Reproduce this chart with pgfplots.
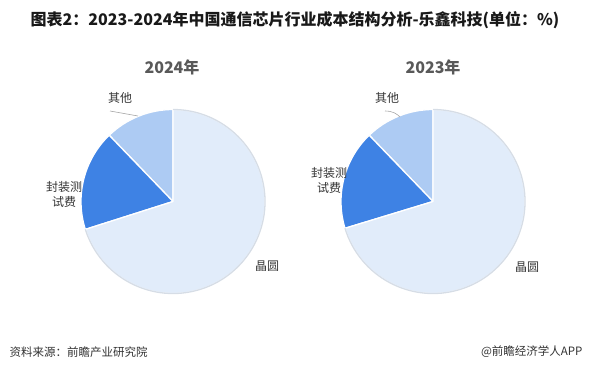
\documentclass[border=0pt]{standalone}
\usepackage{pgfplots}
\pgfplotsset{compat=1.18}
\usepackage{fontspec}
\setmainfont{Noto Sans CJK SC}
\definecolor{wafer}{HTML}{E1ECFA}
\definecolor{pack}{HTML}{3E82E4}
\definecolor{other}{HTML}{ADCBF3}
\definecolor{ring}{HTML}{D6DDE6}
\definecolor{txt}{HTML}{333333}
\definecolor{yr}{HTML}{595959}
% data (%): 其他, 封装测试费, 晶圆
\def\oA{12.2}\def\pA{17.7}\def\wA{70.1} % 2024
\def\oB{12.2}\def\pB{17.5}\def\wB{70.3} % 2023
\def\R{92pt}
\newcommand\slice[5]{%
  \fill[#5,draw=white,line width=1.3pt,line join=round] (axis cs:#1,#2) -- ++({90+3.6*(#3)}:\R)
    arc[start angle={90+3.6*(#3)}, end angle={90+3.6*(#4)}, radius=\R] -- cycle;}
\newcommand\rim[4]{%
  \draw[ring,line width=1.3pt] (axis cs:#1,#2) ++({90+3.6*(#3)}:\R)
    arc[start angle={90+3.6*(#3)}, end angle={90+3.6*(#4)}, radius=\R];}
\begin{document}
\begin{tikzpicture}
\begin{axis}[width=591pt,height=373pt,scale only axis,xmin=0,xmax=591,ymin=0,ymax=373,hide axis,clip=false]
% 2024
\slice{173}{171.5}{0}{\oA}{other}
\slice{173}{171.5}{\oA}{\oA+\pA}{pack}
\slice{173}{171.5}{\oA+\pA}{\oA+\pA+\wA}{wafer}
\rim{173}{171.5}{\oA+\pA}{\oA+\pA+\wA}
% 2023
\slice{433}{171.5}{0}{\oB}{other}
\slice{433}{171.5}{\oB}{\oB+\pB}{pack}
\slice{433}{171.5}{\oB+\pB}{\oB+\pB+\wB}{wafer}
\rim{433}{171.5}{\oB+\pB}{\oB+\pB+\wB}
% leader lines
\draw[gray!70,line width=0.6pt] (axis cs:110,262) -- (axis cs:138,257);
\draw[gray!70,line width=0.6pt] (axis cs:385,262) .. controls (axis cs:393,262) and (axis cs:397,259) .. (axis cs:400,256);
% labels
\node[txt,font=\fontsize{12}{15}\selectfont] at (axis cs:120,275) {其他};
\node[txt,font=\fontsize{12}{15}\selectfont,align=center] at (axis cs:64,178.5) {封装测\\试费};
\node[txt,font=\fontsize{12}{15}\selectfont] at (axis cs:267,107) {晶圆};
\node[txt,font=\fontsize{12}{15}\selectfont] at (axis cs:387,275) {其他};
\node[txt,font=\fontsize{12}{15}\selectfont,align=center] at (axis cs:329,192.5) {封装测\\试费};
\node[txt,font=\fontsize{12}{15}\selectfont] at (axis cs:527,106) {晶圆};
% year titles
\node[yr,font=\fontsize{16}{18}\selectfont\bfseries] at (axis cs:172,306) {2024年};
\node[yr,font=\fontsize{16}{18}\selectfont\bfseries] at (axis cs:433,306) {2023年};
% title
\node[black!90,font=\fontsize{16}{18}\selectfont\bfseries] at (axis cs:295,353) {图表2：2023-2024年中国通信芯片行业成本结构分析-乐鑫科技(单位：\%)};
% footer
\node[txt,anchor=west,font=\fontsize{11.5}{13}\selectfont] at (axis cs:6,21) {资料来源：前瞻产业研究院};
\node[txt,anchor=east,font=\fontsize{11.5}{13}\selectfont] at (axis cs:586,21) {@前瞻经济学人APP};
\end{axis}
\pgfresetboundingbox
\path (0,0) rectangle (591pt,373pt);
\end{tikzpicture}
\end{document}
